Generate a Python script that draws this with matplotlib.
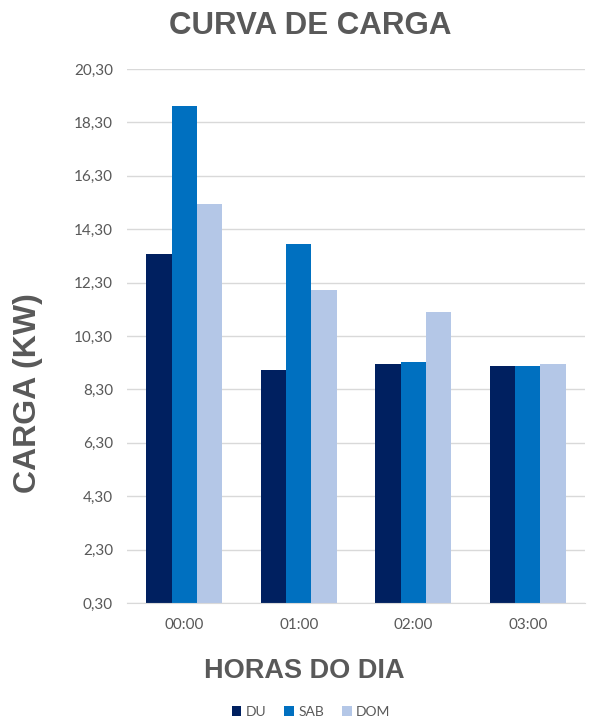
import numpy as np
import matplotlib
matplotlib.use("Agg")
import matplotlib.pyplot as plt
from matplotlib.ticker import FuncFormatter

HOURS = ["00:00", "01:00", "02:00", "03:00"]
SERIES = ["DU", "SAB", "DOM"]
DU = [13.37, 9.03, 9.24, 9.17]
SAB = [18.91, 13.73, 9.31, 9.17]
DOM = [15.23, 12.01, 11.19, 9.24]
COLORS = ["#002060", "#0070C0", "#B4C7E7"]

Y_TICKS = np.arange(0.30, 20.31, 2.0)
BASE = 0.30

GREY = "#595959"
HEAD = "Liberation Sans"
SMALL = "Lato"

fig = plt.figure(figsize=(5.9, 7.22), dpi=100)
ax = fig.add_axes([127 / 590, 1 - 603 / 722, 458 / 590, 534 / 722])

x = np.arange(len(HOURS))
w = 0.22
for i, (name, vals, col) in enumerate(zip(SERIES, [DU, SAB, DOM], COLORS)):
    heights = np.array(vals) - BASE
    ax.bar(x + (i - 1) * w, heights, w, bottom=BASE, color=col, label=name,
           zorder=3)

ax.set_ylim(BASE, 20.30)
ax.set_xlim(-0.5, len(HOURS) - 0.5)
ax.set_yticks(Y_TICKS)
ax.yaxis.set_major_formatter(FuncFormatter(lambda v, p: f"{v:.2f}".replace(".", ",")))
ax.set_xticks(x)
ax.set_xticklabels(HOURS)
ax.tick_params(axis="both", length=0, labelsize=11, labelcolor=GREY)
ax.tick_params(axis="y", pad=10)
ax.tick_params(axis="x", pad=11)
for lbl in ax.get_xticklabels() + ax.get_yticklabels():
    lbl.set_fontfamily(SMALL)
ax.yaxis.grid(True, color="#D9D9D9", linewidth=1, zorder=0)
for s in ["top", "right", "left"]:
    ax.spines[s].set_visible(False)
ax.spines["bottom"].set_color("#D9D9D9")
ax.spines["bottom"].set_zorder(4)

fig.text(310 / 590, 1 - 26 / 722, "CURVA DE CARGA", ha="center", va="center",
         fontsize=22.5, fontweight="bold", color=GREY, family=HEAD)
fig.text(28 / 590, 1 - 393 / 722, "CARGA (KW)", ha="center", va="center",
         rotation=90, fontsize=23, fontweight="bold", color=GREY, family=HEAD)
fig.text(304 / 590, 1 - 671 / 722, "HORAS DO DIA", ha="center", va="center",
         fontsize=19.5, fontweight="bold", color=GREY, family=HEAD)

fig.legend(loc="center", bbox_to_anchor=(311 / 590, 1 - 712 / 722), ncol=3,
           frameon=False, prop={"family": SMALL, "size": 10}, labelcolor=GREY,
           handlelength=0.7, handleheight=0.7, handletextpad=0.3,
           columnspacing=1.3)

fig.savefig("out.png", dpi=100)
